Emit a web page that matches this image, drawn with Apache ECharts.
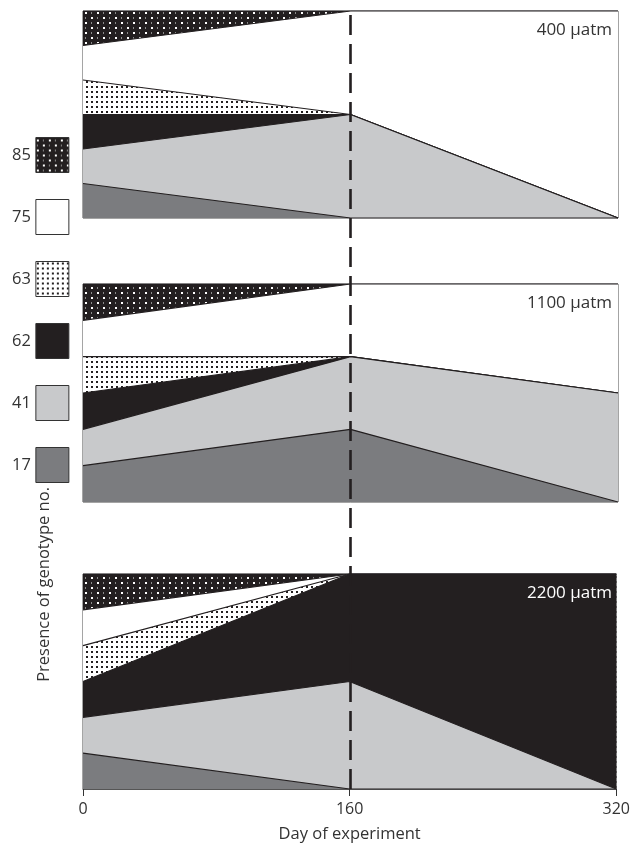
<!DOCTYPE html>
<html>
<head>
<meta charset="utf-8">
<script src="https://cdn.jsdelivr.net/npm/echarts@6/dist/echarts.min.js"></script>
<style>
html,body{margin:0;padding:0;background:#fff;}
#chart{width:633px;height:848px;}
</style>
</head>
<body>
<div id="chart"></div>
<script>
// ---- data ----
const days = [0, 160, 320];
const xTicks = [0, 160, 320];
const genotypes = ['17', '41', '62', '63', '75', '85']; // stack order, bottom to top
const legendOrder = ['85', '75', '63', '62', '41', '17'];
const panelLabels = ['400 μatm', '1100 μatm', '2200 μatm'];
// values per genotype (order of `genotypes`) at days 0, 160, 320
const val400  = [[1, 0, 0], [1, 3, 0], [1, 0, 0], [1, 0, 0], [1, 3, 6], [1, 0, 0]];
const val1100 = [[1, 2, 0], [1, 2, 3], [1, 0, 0], [1, 0, 0], [1, 2, 3], [1, 0, 0]];
const val2200 = [[1, 0, 0], [1, 3, 0], [1, 3, 6], [1, 0, 0], [1, 0, 0], [1, 0, 0]];
const panels = [val400, val1100, val2200];

// ---- patterns ----
function makePattern(w, h, bg, draw) {
  const c = document.createElement('canvas');
  c.width = w; c.height = h;
  const ctx = c.getContext('2d');
  ctx.fillStyle = bg; ctx.fillRect(0, 0, w, h);
  draw(ctx);
  return { image: c, repeat: 'repeat' };
}
const pat85 = makePattern(12, 10, '#231f20', ctx => {
  ctx.fillStyle = '#ffffff';
  ctx.fillRect(1, 2, 2, 2);
  ctx.fillRect(7, 7, 2, 2);
  ctx.fillStyle = '#8a8a8a';
  ctx.fillRect(7, 2, 1, 2);
  ctx.fillRect(1, 7, 1, 2);
});
const pat63 = makePattern(5, 5, '#ffffff', ctx => {
  ctx.fillStyle = '#231f20';
  ctx.fillRect(1, 1, 2, 2);
});
const fills = {
  '17': '#7b7c7f',
  '41': '#c8c9cb',
  '62': '#231f20',
  '63': pat63,
  '75': '#ffffff',
  '85': pat85
};

// ---- layout ----
const grids = [
  { left: 83, right: 15, top: 11, height: 207 },
  { left: 83, right: 15, top: 284, height: 218 },
  { left: 83, right: 15, top: 574, height: 215 },
  { left: 83, right: 15, top: 11, height: 778 }
];
const font = '"Open Sans", "DejaVu Sans", sans-serif';

const gridOpts = grids.map((g, i) => Object.assign({
  show: i < 3, borderColor: '#4a4a4a', borderWidth: 1, backgroundColor: 'transparent'
}, g));

const xAxes = grids.map((g, i) => ({
  type: 'value', gridIndex: i, min: 0, max: 320, interval: 160,
  show: i === 2,
  axisLine: { show: true, lineStyle: { color: '#555', width: 1 } },
  axisTick: { show: true, length: 7, lineStyle: { color: '#333' } },
  axisLabel: { show: true, fontSize: 16, color: '#333', fontFamily: font, margin: 12,
    formatter: v => xTicks.includes(v) ? String(v) : '' },
  splitLine: { show: false },
  name: i === 2 ? 'Day of experiment' : '',
  nameLocation: 'middle', nameGap: 37,
  nameTextStyle: { fontSize: 16.5, color: '#333', fontFamily: font }
}));
const yAxes = grids.map((g, i) => ({
  type: 'value', gridIndex: i, min: 0, max: 6, show: false, splitLine: { show: false }
}));

// cumulative tops, drawn top layer first so lower layers paint over
const series = [];
panels.forEach((vals, p) => {
  const cum = genotypes.map((g, k) => days.map((d, j) => {
    let s = 0;
    for (let m = 0; m <= k; m++) s += vals[m][j];
    return s;
  }));
  for (let k = genotypes.length - 1; k >= 0; k--) {
    const gname = genotypes[k];
    series.push({
      name: gname,
      type: 'line',
      xAxisIndex: p, yAxisIndex: p,
      symbol: 'none',
      smooth: false,
      data: days.map((d, j) => [d, cum[k][j]]),
      lineStyle: { color: '#231f20', width: 1.2 },
      itemStyle: { color: '#231f20' },
      areaStyle: { color: fills[gname], opacity: 1, origin: 'start' },
      emphasis: { disabled: true },
      silent: true,
      z: 2 + (genotypes.length - k)
    });
  }
});
// dashed marker at day 160 across all panels
series.push({
  type: 'line', xAxisIndex: 3, yAxisIndex: 3, data: [], z: 30, silent: true,
  markLine: {
    z: 50,
    symbol: 'none', silent: true, animation: false,
    label: { show: false },
    lineStyle: { color: '#231f20', width: 2.6, type: [20, 9] },
    data: [{ xAxis: 160 }]
  }
});

const panelTops = [11, 284, 574];
const graphic = panelLabels.map((t, i) => ({
  type: 'text', right: 21, top: panelTops[i] + 11,
  style: { text: t, fontSize: 17, fontFamily: font, fill: i === 2 ? '#ffffff' : '#333' },
  z: 60
}));
graphic.push({
  type: 'text', left: 36, top: 487, rotation: Math.PI / 2,
  style: { text: 'Presence of genotype no.', fontSize: 16.5, fontFamily: font, fill: '#333' },
  z: 60
});

const option = {
  animation: false,
  backgroundColor: '#fff',
  grid: gridOpts,
  xAxis: xAxes,
  yAxis: yAxes,
  legend: {
    orient: 'vertical', left: 7, top: 132,
    itemWidth: 33, itemHeight: 35, itemGap: 26, align: 'right',
    selectedMode: false,
    textStyle: { fontSize: 16.5, color: '#333', fontFamily: font },
    data: legendOrder.map(n => ({
      name: n, icon: 'rect',
      itemStyle: { color: fills[n], borderColor: '#333', borderWidth: 1 }
    }))
  },
  graphic: graphic,
  series: series
};

const chart = echarts.init(document.getElementById('chart'), null, { renderer: 'canvas' });
chart.setOption(option);
</script>
</body>
</html>
